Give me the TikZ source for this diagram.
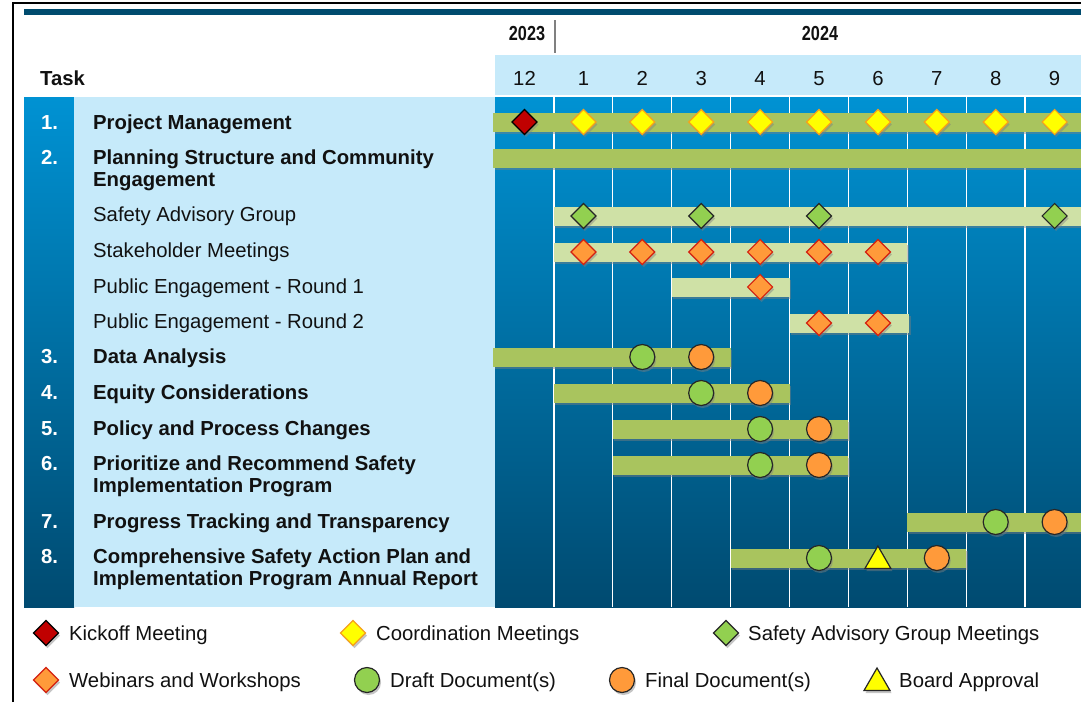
\documentclass[tikz,border=0pt]{standalone}
\usepackage{fontspec}
\setmainfont{Liberation Sans}
\usetikzlibrary{shapes.geometric,shadows}
\definecolor{lblue}{HTML}{C6EAFA}
\definecolor{dteal}{HTML}{004B6E}
\definecolor{ctop}{HTML}{0092D3}
\definecolor{cbot}{HTML}{004A70}
\definecolor{gbar}{HTML}{A9C45E}
\definecolor{lgbar}{HTML}{CFE1A6}
\definecolor{mred}{HTML}{C00000}
\definecolor{myel}{HTML}{FFFF00}
\definecolor{myelb}{HTML}{F7A11A}
\definecolor{morange}{HTML}{FF9A3A}
\definecolor{mredb}{HTML}{D42010}
\definecolor{mgreen}{HTML}{92D050}
\definecolor{txt}{HTML}{111111}
\tikzset{
 shad/.style={drop shadow={opacity=0.45, shadow xshift=1.5pt, shadow yshift=-2.5pt}},
 mk/.style={inner sep=0pt, outer sep=0pt, line width=1.2pt, shad},
 dia/.style={mk, diamond, minimum width=25pt, minimum height=25pt},
 kickm/.style={dia, fill=mred, draw=black},
 coordm/.style={dia, fill=myel, draw=myelb},
 sagm/.style={dia, fill=mgreen, draw=black!85},
 webm/.style={dia, fill=morange, draw=mredb},
 draftm/.style={mk, circle, minimum size=25pt, fill=mgreen, draw=black!85},
 finalm/.style={mk, circle, minimum size=25pt, fill=morange, draw=black!85},
 boardm/.style={mk, regular polygon, regular polygon sides=3, minimum size=30pt, fill=myel, draw=black!85},
 gbarst/.style={fill=gbar, shad},
 lbarst/.style={fill=lgbar, shad},
 tasklbl/.style={anchor=base west, font=\bfseries\fontsize{20.3}{22}\selectfont, text=txt, align=left, inner sep=0pt},
 sublbl/.style={anchor=base west, font=\fontsize{20.3}{22}\selectfont, text=txt, inner sep=0pt},
 numlbl/.style={anchor=base west, font=\bfseries\fontsize{20.3}{22}\selectfont, text=white, inner sep=0pt},
 monlbl/.style={anchor=base, font=\fontsize{20.3}{22}\selectfont, text=txt, inner sep=0pt},
 yearlbl/.style={anchor=base, font=\bfseries\fontsize{20.3}{22}\selectfont, text=txt, inner sep=0pt},
 leglbl/.style={anchor=base west, font=\fontsize{20.3}{22}\selectfont, text=txt, inner sep=0pt},
}
\begin{document}
\begin{tikzpicture}[x=1pt,y=-1pt]
\useasboundingbox (0,0) rectangle (1081,702);
\fill[white] (0,0) rectangle (1081,702);
% frame and top bar
\draw[black, line width=1.8pt] (13,702) -- (13,3) -- (1081,3);
\fill[dteal] (24,9) rectangle (1081,15);
% years
\node[yearlbl] (y2023) at (527,40) {\scalebox{0.8}[1]{2023}};
\node[yearlbl] (y2024) at (820,40) {\scalebox{0.8}[1]{2024}};
\draw[gray, line width=1.5pt] (555,20) -- (555,53);
% month header
\fill[lblue] (495,55) rectangle (1081,95);
\node[tasklbl] (tasktitle) at (40,85) {Task};
\node[monlbl] (m0) at (524.5,85) {12};
\foreach \c in {1,...,9}{
  \node[monlbl] (m\c) at (524.5+58.9*\c,85) {\c};
}
% body backgrounds
\shade[top color=ctop, bottom color=cbot] (24,97) rectangle (74,607);
\fill[lblue] (74,97) rectangle (495,607);
\shade[top color=ctop, bottom color=cbot] (495,97) rectangle (1081,607);
\foreach \c in {1,...,9}{
  \draw[white, line width=1.3pt] (495+58.9*\c,97) -- (495+58.9*\c,607);
}
% numbers
\node[numlbl] (n1) at (41,129) {1.};
\node[numlbl] (n2) at (41,164) {2.};
\node[numlbl] (n3) at (41,363) {3.};
\node[numlbl] (n4) at (41,399) {4.};
\node[numlbl] (n5) at (41,435) {5.};
\node[numlbl] (n6) at (41,470) {6.};
\node[numlbl] (n7) at (41,528) {7.};
\node[numlbl] (n8) at (41,563) {8.};
% labels
\node[tasklbl] (t1) at (93,129) {Project Management};
\node[tasklbl] (t2) at (93,186) {Planning Structure and Community\\Engagement};
\node[sublbl] (s1) at (93,221) {Safety Advisory Group};
\node[sublbl] (s2) at (93,257) {Stakeholder Meetings};
\node[sublbl] (s3) at (93,293) {Public Engagement - Round 1};
\node[sublbl] (s4) at (93,328) {Public Engagement - Round 2};
\node[tasklbl] (t3) at (93,363) {Data Analysis};
\node[tasklbl] (t4) at (93,399) {Equity Considerations};
\node[tasklbl] (t5) at (93,435) {Policy and Process Changes};
\node[tasklbl] (t6) at (93,492) {Prioritize and Recommend Safety\\Implementation Program};
\node[tasklbl] (t7) at (93,528) {Progress Tracking and Transparency};
\node[tasklbl] (t8) at (93,585) {Comprehensive Safety Action Plan and\\Implementation Program Annual Report};
% bars
\fill[gbarst] (493,112.5) rectangle (1081,131.5);
\fill[gbarst] (493,148.5) rectangle (1081,167.5);
\fill[lbarst] (495+58.9*1,206.5) rectangle (1081,225.5);
\fill[lbarst] (495+58.9*1,242.5) rectangle (495+58.9*7,261.5);
\fill[lbarst] (495+58.9*3,277.5) rectangle (495+58.9*5,296.5);
\fill[lbarst] (495+58.9*5,313.5) rectangle (497+58.9*7,332.5);
\fill[gbarst] (493,347.5) rectangle (495+58.9*4,366.5);
\fill[gbarst] (495+58.9*1,383.5) rectangle (495+58.9*5,402.5);
\fill[gbarst] (495+58.9*2,419.5) rectangle (495+58.9*6,438.5);
\fill[gbarst] (495+58.9*2,455.5) rectangle (495+58.9*6,474.5);
\fill[gbarst] (495+58.9*7,512.5) rectangle (1081,531.5);
\fill[gbarst] (495+58.9*4,548.5) rectangle (495+58.9*8,567.5);
% markers
\node[kickm] (pm0) at (524.5,122) {};
\foreach \c in {1,...,9}{
  \node[coordm] (pm\c) at (524.5+58.9*\c,122) {};
}
\foreach \c in {1,3,5,9}{
  \node[sagm] (sag\c) at (524.5+58.9*\c,216) {};
}
\foreach \c in {1,...,6}{
  \node[webm] (st\c) at (524.5+58.9*\c,252) {};
}
\node[webm] (pa4) at (524.5+58.9*4,287) {};
\node[webm] (pb5) at (524.5+58.9*5,323) {};
\node[webm] (pb6) at (524.5+58.9*6,323) {};
\node[draftm] (da2) at (524.5+58.9*2,357) {};
\node[finalm] (da3) at (524.5+58.9*3,357) {};
\node[draftm] (eq3) at (524.5+58.9*3,393) {};
\node[finalm] (eq4) at (524.5+58.9*4,393) {};
\node[draftm] (po4) at (524.5+58.9*4,429) {};
\node[finalm] (po5) at (524.5+58.9*5,429) {};
\node[draftm] (pr4) at (524.5+58.9*4,465) {};
\node[finalm] (pr5) at (524.5+58.9*5,465) {};
\node[draftm] (pt8) at (524.5+58.9*8,522) {};
\node[finalm] (pt9) at (524.5+58.9*9,522) {};
\node[draftm] (cs5) at (524.5+58.9*5,558) {};
\node[boardm] (cs6) at (524.5+58.9*6,561) {};
\node[finalm] (cs7) at (524.5+58.9*7,558) {};
% legend
\node[kickm] (lk) at (46,633) {};
\node[leglbl] (lkt) at (69,640) {Kickoff Meeting};
\node[coordm] (lc) at (353,633) {};
\node[leglbl] (lct) at (376,640) {Coordination Meetings};
\node[sagm] (ls) at (726,633) {};
\node[leglbl] (lst) at (748,640) {Safety Advisory Group Meetings};
\node[webm] (lw) at (46,680) {};
\node[leglbl] (lwt) at (69,687) {Webinars and Workshops};
\node[draftm] (ld) at (367,680) {};
\node[leglbl] (ldt) at (390,687) {Draft Document(s)};
\node[finalm] (lf) at (622,680) {};
\node[leglbl] (lft) at (645,687) {Final Document(s)};
\node[boardm] (lb) at (877,683) {};
\node[leglbl] (lbt) at (899,687) {Board Approval};
\end{tikzpicture}
\end{document}
